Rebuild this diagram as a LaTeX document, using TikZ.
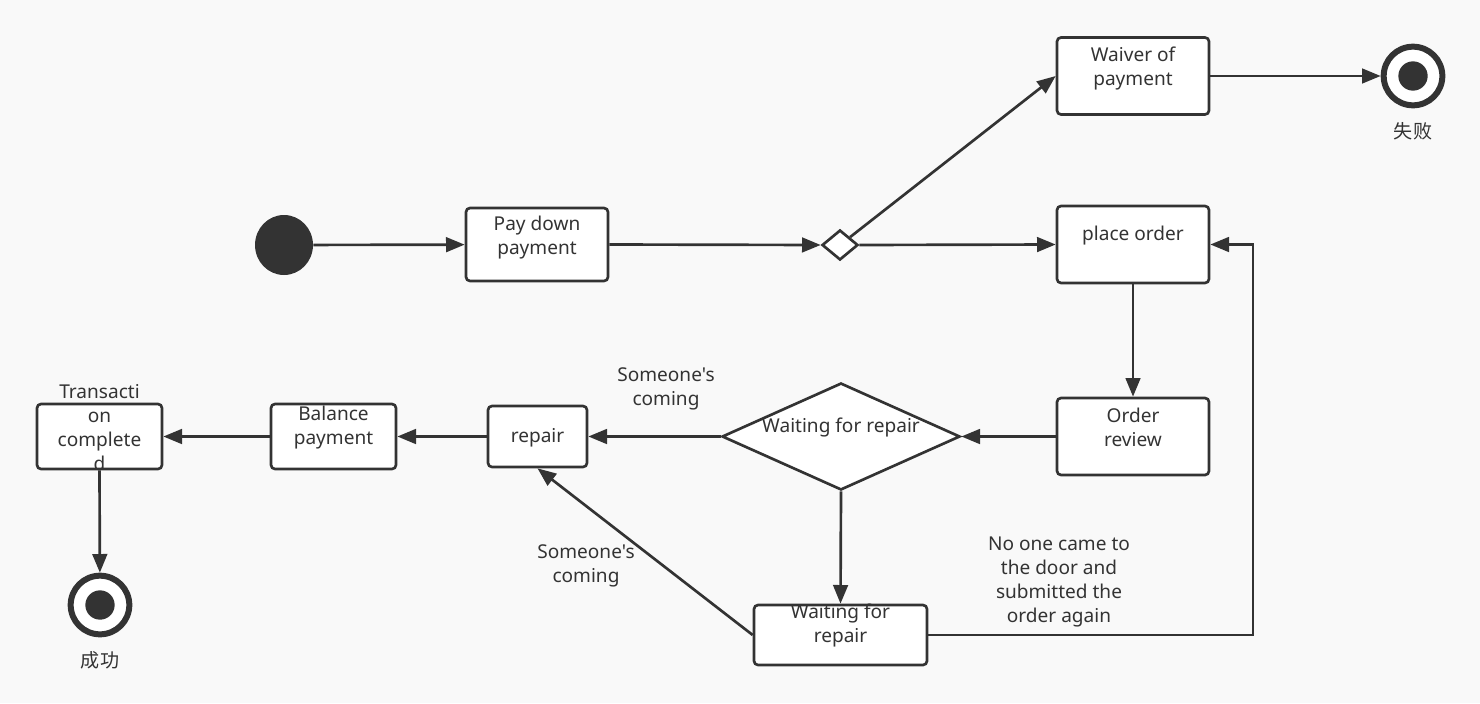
\documentclass[tikz,border=0pt]{standalone}
\usepackage{fontspec}
\setmainfont{Noto Sans}[Ligatures=TeXOff]
\newfontfamily\cjk{Noto Sans CJK SC}
\usetikzlibrary{arrows.meta,shapes.geometric,calc}
\definecolor{ink}{HTML}{333333}
\definecolor{bg}{HTML}{F9F9F9}
\begin{document}
\begin{tikzpicture}[x=0.75pt,y=-0.75pt,
  box/.style={draw=ink,fill=white,line width=2pt,rounded corners=3pt,inner sep=0pt},
  txt/.style={font=\fontsize{14.3}{18}\selectfont,text=ink,align=center,inner sep=0pt},
  dec/.style={diamond,draw=ink,fill=white,line width=2pt,inner sep=0pt},
  endring/.style={circle,draw=ink,fill=white,line width=4.5pt,minimum size=44pt,inner sep=0pt},
  enddot/.style={circle,fill=ink,minimum size=22pt,inner sep=0pt},
  conn/.style={draw=ink,line width=2pt,-{Triangle[length=14pt,width=11pt]}}]
\fill[bg] (0,0) rectangle (1480,703);
\useasboundingbox (0,0) rectangle (1480,703);
% nodes
\node[ellipse,fill=ink,minimum width=43.5pt,minimum height=45pt,inner sep=0pt] (start) at (284,245) {};
\node[box,minimum width=106.5pt,minimum height=54.75pt] (pay) at (537,244.5) {};
\node[dec,minimum width=27pt,minimum height=22.5pt] (dec1) at (840,245) {};
\node[box,minimum width=114pt,minimum height=57.75pt] (waiver) at (1133,76) {};
\node[box,minimum width=114pt,minimum height=57.75pt] (order) at (1133,244.5) {};
\node[box,minimum width=114pt,minimum height=57.75pt] (review) at (1133,436.5) {};
\node[dec,minimum width=178.5pt,minimum height=80.25pt] (dec2) at (841,436.5) {};
\node[box,minimum width=74.25pt,minimum height=45.75pt] (repair) at (537.5,436.5) {};
\node[box,minimum width=93.75pt,minimum height=48.75pt] (balance) at (333.5,436.5) {};
\node[box,minimum width=93.75pt,minimum height=48.75pt] (trans) at (99.5,436.5) {};
\node[box,minimum width=129.75pt,minimum height=45pt] (wait2) at (840.5,635) {};
\node[endring] (end1) at (1413,76) {};
\node[enddot] (dot1) at (end1.center) {};
\node[endring] (end2) at (100,605) {};
\node[enddot] (dot2) at (end2.center) {};
\coordinate (c1) at (1253,244.5);
% texts
\node[txt] (tpay) at ([yshift=5.5pt]pay.center) {Pay down\\payment};
\node[txt] (twaiver) at ([yshift=6pt]waiver.center) {Waiver of\\payment};
\node[txt] (torder) at ([yshift=6.5pt]order.center) {place order};
\node[txt] (treview) at ([yshift=6.5pt]review.center) {Order\\review};
\node[txt] (tdec2) at ([yshift=6.5pt]dec2.center) {Waiting for repair};
\node[txt] (trepair) at ([yshift=-1pt]repair.center) {repair};
\node[txt] (tbalance) at ([yshift=6.5pt]balance.center) {Balance\\payment};
\node[txt] (ttrans) at ([yshift=7pt]trans.center) {Transacti\\on\\complete\\d};
\node[txt] (twait2) at ([yshift=7pt]wait2.center) {Waiting for\\repair};
\node[txt] (l1) at (666,389) {Someone's\\coming};
\node[txt] (l2) at (586,566) {Someone's\\coming};
\node[txt] (l3) at (1059,582) {No one came to\\the door and\\submitted the\\order again};
\node[txt,font=\cjk\fontsize{14.3}{18}\selectfont] (fail) at (1413,131) {失败};
\node[txt,font=\cjk\fontsize{14.3}{18}\selectfont] (succ) at (100,660) {成功};
% connectors
\draw[conn] (start) -- (pay);
\draw[conn] (pay.east) -- (dec1.west);
\draw[conn] (dec1.east) -- (order.west);
\draw[conn] (dec1) -- (waiver.west);
\draw[conn] (waiver.east) -- (end1);
\draw[conn] (order.south) -- (review.north);
\draw[conn] (review.west) -- (dec2.east);
\draw[conn] (dec2.west) -- (repair.east);
\draw[conn] (repair.west) -- (balance.east);
\draw[conn] (balance.west) -- (trans.east);
\draw[conn] (trans.south) -- (end2);
\draw[conn] (dec2.south) -- (wait2.north);
\draw[conn] (wait2.west) -- (repair.south);
\draw[conn] (wait2.east) -| (c1) -- (order.east);
\end{tikzpicture}
\end{document}
